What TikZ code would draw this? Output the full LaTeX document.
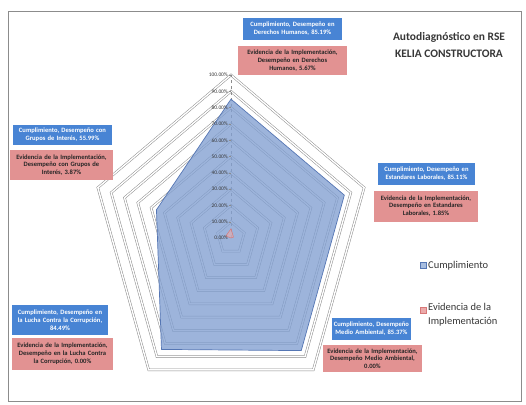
\documentclass[tikz,border=0pt]{standalone}
\usepackage{fontspec}
\setmainfont{Carlito}
\definecolor{cumfill}{RGB}{130,160,210}
\definecolor{cumline}{RGB}{85,118,180}
\definecolor{evfill}{RGB}{235,170,170}
\definecolor{evline}{RGB}{215,120,120}
\definecolor{bluebox}{RGB}{72,132,212}
\definecolor{pinkbox}{RGB}{226,146,146}
\definecolor{ringc}{RGB}{140,140,140}
\definecolor{txtc}{RGB}{55,55,55}
\begin{document}
\begin{tikzpicture}[x=1bp,y=-1bp,
  ring/.style={draw=ringc,line width=0.5bp,double=white,double distance=1.4bp},
  bluelab/.style={fill=bluebox,text=white,font=\fontsize{6.6}{7.8}\selectfont\bfseries,align=center,inner sep=1.2bp,minimum height=#1},
  pinklab/.style={fill=pinkbox,text=black!85,font=\fontsize{6.6}{7.8}\selectfont\bfseries,align=center,inner sep=1.2bp,minimum height=#1},
  ticklab/.style={font=\fontsize{5.4}{6}\selectfont,text=txtc,anchor=east,inner sep=0.5bp},
  legtext/.style={font=\fontsize{10.5}{14.5}\selectfont,text=txtc,anchor=west,align=left,inner sep=0bp},
  legsq/.style={minimum size=5.5bp,inner sep=0bp,line width=0.5bp},
  titletext/.style={font=\fontsize{11.5}{17}\selectfont\bfseries,text=txtc,align=center}]
\useasboundingbox (0,0) rectangle (526,404);
\fill[white] (0,0) rectangle (526,404);
\draw[ringc,line width=1bp] (8,11) rectangle (521,401);
\coordinate (ctr) at (231,238);
\foreach \k in {0,...,4}{
  \foreach \p in {1,...,10}{
    \coordinate (r\p-\k) at ({231+14*\p*cos(90-72*\k)},{238-16.3*\p*sin(90-72*\k)});
  }
}
\foreach \p in {1,...,10}{
  \draw[ring] (r\p-0) -- (r\p-1) -- (r\p-2) -- (r\p-3) -- (r\p-4) -- cycle;
}
\draw[ringc,dashed,line width=0.4bp] (ctr) -- (r10-0);
\foreach \k/\v in {0/0.8519,1/0.8511,2/0.8537,3/0.8449,4/0.5599}{
  \coordinate (c\k) at ({231+140*\v*cos(90-72*\k)},{238-163*\v*sin(90-72*\k)});
}
\foreach \k/\v in {0/0.0567,1/0.0185,2/0.0,3/0.0,4/0.0387}{
  \coordinate (e\k) at ({231+140*\v*cos(90-72*\k)},{238-163*\v*sin(90-72*\k)});
}
\fill[cumfill,fill opacity=0.78] (c0) -- (c1) -- (c2) -- (c3) -- (c4) -- cycle;
\draw[cumline,line width=0.7bp,line join=round] (c0) -- (c1) -- (c2) -- (c3) -- (c4) -- cycle;
\filldraw[fill=evfill,fill opacity=0.6,draw=evline,line width=0.5bp] (e0) -- (e1) -- (e2) -- (e3) -- (e4) -- cycle;
\foreach \p in {1,...,10}{
  \pgfmathtruncatemacro{\pct}{10*\p}
  \draw[ringc,line width=0.4bp] ([xshift=-2bp]r\p-0) -- (r\p-0);
  \node[ticklab] (t\p) at ([xshift=-2.5bp]r\p-0) {\pct.00\%};
}
\node[ticklab] (t0) at ([xshift=-2.5bp]ctr) {0.00\%};
% data labels
\node[bluelab=22bp,text width=97bp] (dhb) at (292.5,29) {Cumplimiento, Desempeño en\\Derechos Humanos, 85.19\%};
\node[pinklab=29bp,text width=107bp] (dhp) at (292.5,60.5) {Evidencia de la Implementación,\\Desempeño en Derechos\\Humanos, 5.67\%};
\node[bluelab=20bp,text width=97bp] (gib) at (62.5,135) {Cumplimiento, Desempeño con\\Grupos de Interés, 55.99\%};
\node[pinklab=30bp,text width=101bp] (gip) at (61.5,165) {Evidencia de la Implementación,\\Desempeño con Grupos de\\Interés, 3.87\%};
\node[bluelab=22bp,text width=95bp] (elb) at (426.5,174) {Cumplimiento, Desempeño en\\Estandares Laborales, 85.11\%};
\node[pinklab=31bp,text width=102bp] (elp) at (426,206) {Evidencia de la Implementación,\\Desempeño en Estandares\\Laborales, 1.85\%};
\node[bluelab=30bp,text width=94bp] (lcb) at (60,320) {Cumplimiento, Desempeño en\\la Lucha Contra la Corrupción,\\84.49\%};
\node[pinklab=32bp,text width=99bp] (lcp) at (62.5,353.5) {Evidencia de la Implementación,\\Desempeño en la Lucha Contra\\la Corrupción, 0.00\%};
\node[bluelab=22bp,text width=76bp] (mab) at (371.5,329) {Cumplimiento, Desempeño\\Medio Ambiental, 85.37\%};
\node[pinklab=27bp,text width=97bp] (map) at (372.5,358.5) {Evidencia de la Implementación,\\Desempeño Medio Ambiental,\\0.00\%};
% title
\node[titletext] (title) at (449,45) {Autodiagnóstico en RSE\\KELIA CONSTRUCTORA};
% legend
\node[legsq,fill=cumfill!70,draw=cumline] (lq1) at (423,265) {};
\node[legtext] (lt1) at (428,265.5) {Cumplimiento};
\node[legsq,fill=evfill,draw=evline] (lq2) at (423,310) {};
\node[legtext,anchor=north west] (lt2) at (428,303) {Evidencia de la\\Implementación};
\end{tikzpicture}
\end{document}
